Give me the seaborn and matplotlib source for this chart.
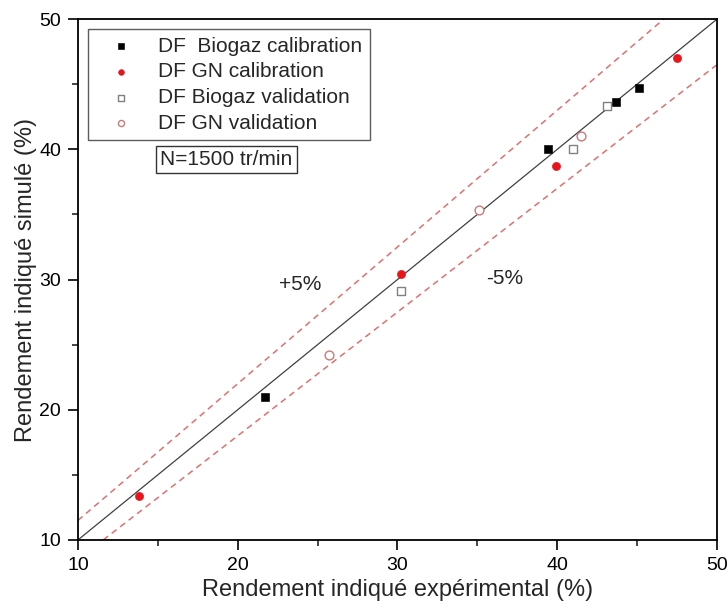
import matplotlib
matplotlib.use('Agg')
import matplotlib.pyplot as plt
import pandas as pd
import numpy as np
import seaborn as sns

# values
bio_cal_x = [21.7, 39.4, 43.65, 45.1]
bio_cal_y = [21.0, 40.0, 43.6, 44.7]
gn_cal_x = [13.8, 30.2, 39.9, 47.5]
gn_cal_y = [13.4, 30.4, 38.7, 47.0]
bio_val_x = [30.2, 41.0, 43.1]
bio_val_y = [29.1, 40.0, 43.3]
gn_val_x = [25.7, 35.1, 41.5]
gn_val_y = [24.2, 35.3, 41.0]

labels = ['DF  Biogaz calibration', 'DF GN calibration', 'DF Biogaz validation', 'DF GN validation']

# +/-5% guide lines
line_x = [10, 50]
upper_slope, upper_icpt = 1.05, 1.0
lower_slope, lower_icpt = 0.95, -1.0

sns.set_style('ticks')
plt.rcParams['font.family'] = ['Liberation Sans', 'DejaVu Sans']

fig = plt.figure(figsize=(7.28, 6.01), dpi=100)
ax = fig.add_axes([0.107, 0.1015, 0.878, 0.8668])

lx = np.array(line_x, dtype=float)
ax.plot(lx, lx, color='#404040', lw=0.9, zorder=1)
ax.plot(lx, upper_slope * lx + upper_icpt, color='#e07070', lw=1.1, ls=(0, (4, 3)), zorder=1)
ax.plot(lx, lower_slope * lx + lower_icpt, color='#e07070', lw=1.1, ls=(0, (4, 3)), zorder=1)

sns.scatterplot(x=bio_cal_x, y=bio_cal_y, marker='s', color='black', edgecolor='black',
                s=30, label=labels[0], ax=ax, zorder=3)
sns.scatterplot(x=gn_cal_x, y=gn_cal_y, marker='o', color='#e8141b', edgecolor='#e8141b',
                s=34, label=labels[1], ax=ax, zorder=3)
sns.scatterplot(x=bio_val_x, y=bio_val_y, marker='s', facecolor='white', edgecolor='#808080',
                linewidth=1.0, s=30, label=labels[2], ax=ax, zorder=3)
sns.scatterplot(x=gn_val_x, y=gn_val_y, marker='o', facecolor='white', edgecolor='#c87a7a',
                linewidth=1.0, s=40, label=labels[3], ax=ax, zorder=3)

ax.set_xlim(10, 50)
ax.set_ylim(10, 50)
ax.set_xticks([10, 20, 30, 40, 50])
ax.set_yticks([10, 20, 30, 40, 50])
ax.set_xticks([15, 25, 35, 45], minor=True)
ax.set_yticks([15, 25, 35, 45], minor=True)
ax.tick_params(which='major', direction='out', length=7, width=1.2, labelsize=14, pad=5, colors='black')
ax.tick_params(which='minor', direction='out', length=4, width=1.2)
for sp in ax.spines.values():
    sp.set_visible(True)
    sp.set_linewidth(1.3)
    sp.set_color('black')

ax.set_xlabel('Rendement indiqué expérimental (%)', fontsize=17, labelpad=4)
ax.set_ylabel('Rendement indiqué simulé (%)', fontsize=17, labelpad=2)

ax.text(23.9, 29.6, '+5%', fontsize=15, ha='center', va='center')
ax.text(36.7, 30.1, '-5%', fontsize=15, ha='center', va='center')
ax.text(19.3, 39.2, 'N=1500 tr/min', fontsize=15, ha='center', va='center',
        bbox=dict(boxstyle='square,pad=0.2', facecolor='white', edgecolor='#333333', lw=1.0))

leg = ax.legend(loc='upper left', bbox_to_anchor=(0.01, 0.988), fontsize=15, frameon=True,
                fancybox=False, edgecolor='#333333', markerscale=0.7, handletextpad=0.6,
                labelspacing=0.32, borderpad=0.35, handlelength=2.4, borderaxespad=0.2)
leg.get_frame().set_linewidth(1.0)

fig.savefig('out.png', dpi=100)
